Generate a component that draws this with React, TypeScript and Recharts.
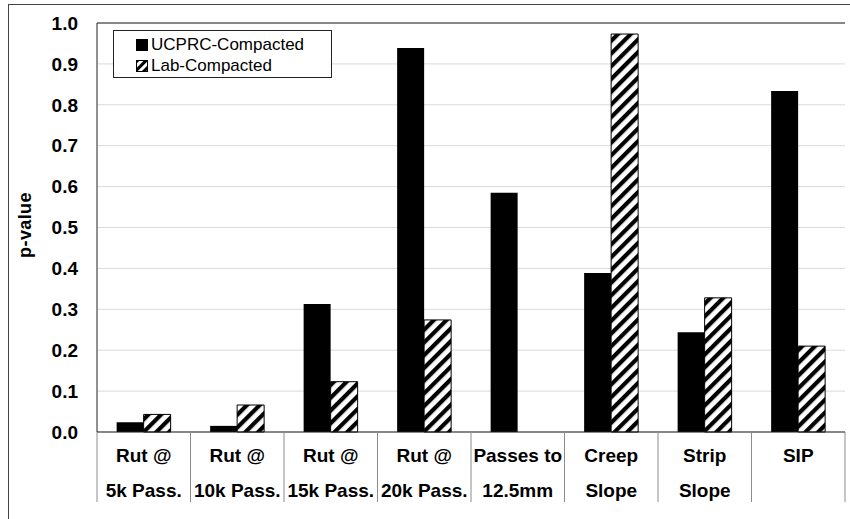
import React from "react"
import { BarChart, Bar, XAxis, YAxis, CartesianGrid, Legend, ReferenceLine } from "recharts"

const categories = [
  ["Rut @", "5k Pass."],
  ["Rut @", "10k Pass."],
  ["Rut @", "15k Pass."],
  ["Rut @", "20k Pass."],
  ["Passes to", "12.5mm"],
  ["Creep", "Slope"],
  ["Strip", "Slope"],
  ["SIP", ""],
]
const ucprc = [0.024, 0.015, 0.313, 0.939, 0.585, 0.389, 0.244, 0.834]
const lab = [0.043, 0.066, 0.123, 0.274, 0, 0.973, 0.328, 0.21]
const yTicks = [0, 0.1, 0.2, 0.3, 0.4, 0.5, 0.6, 0.7, 0.8, 0.9, 1.0]
const seriesOrder = ["ucprc", "lab"]

const data = categories.map((c, i) => ({
  name: c.join("\n"),
  ucprc: ucprc[i],
  lab: lab[i],
}))

const FONT = "Arial, 'Liberation Sans', sans-serif"

function CategoryTick(props: any) {
  const { x, y, payload, index, visibleTicksCount, width } = props
  const band = width / visibleTicksCount
  const [l1, l2] = String(payload.value).split("\n")
  const stroke = "#8c8c8c"
  return (
    <g>
      <line x1={x - band / 2} x2={x - band / 2} y1={y} y2={y + 70} stroke={stroke} />
      {index === visibleTicksCount - 1 && (
        <line x1={x + band / 2} x2={x + band / 2} y1={y} y2={y + 70} stroke={stroke} />
      )}
      <text x={x} y={y + 30} textAnchor="middle" fontFamily={FONT} fontWeight="bold" fontSize={19} fill="#000">
        {l1}
      </text>
      <text x={x} y={y + 65} textAnchor="middle" fontFamily={FONT} fontWeight="bold" fontSize={19} fill="#000">
        {l2}
      </text>
    </g>
  )
}

function LegendBox(props: any) {
  const items = [...(props.payload || [])].sort(
    (a: any, b: any) => seriesOrder.indexOf(a.dataKey) - seriesOrder.indexOf(b.dataKey)
  )
  return (
    <div
      style={{
        border: "1px solid #222",
        background: "#fff",
        width: 219,
        height: 48,
        boxSizing: "border-box",
        paddingLeft: 22,
        paddingTop: 3,
        fontFamily: FONT,
        fontSize: 17,
        lineHeight: "21px",
        color: "#000",
        textAlign: "left",
      }}
    >
      {items.map((it: any) => (
        <div key={it.value} style={{ display: "flex", alignItems: "center" }}>
          <svg width={12} height={12} style={{ marginRight: 3 }}>
            <rect
              x={0.5}
              y={0.5}
              width={11}
              height={11}
              fill={it.dataKey === "lab" ? "url(#hatchLegend)" : "#000"}
              stroke="#000"
            />
          </svg>
          <span>{it.value}</span>
        </div>
      ))}
    </div>
  )
}

export default function App() {
  return (
    <div style={{ position: "absolute", left: 0, top: 0, width: 850, height: 519, background: "#fff" }}>
      <div
        style={{
          position: "absolute",
          left: 8,
          top: 4,
          width: 860,
          height: 530,
          borderLeft: "1.5px solid #444",
          borderTop: "1.5px solid #444",
        }}
      />
      <svg width={0} height={0} style={{ position: "absolute" }}>
        <defs>
          <pattern id="hatchLegend" patternUnits="userSpaceOnUse" width={6} height={6} patternTransform="rotate(45)">
            <rect width={6} height={6} fill="#fff" />
            <rect width={3} height={6} fill="#000" />
          </pattern>
        </defs>
      </svg>
      <BarChart
        width={850}
        height={519}
        data={data}
        margin={{ top: 23, right: 5, bottom: 0, left: 0 }}
        barCategoryGap="21%"
        barGap={0}
      >
        <defs>
          <pattern id="hatch" patternUnits="userSpaceOnUse" width={9} height={9} patternTransform="rotate(45)">
            <rect width={9} height={9} fill="#fff" />
            <rect width={4.2} height={9} fill="#000" />
          </pattern>
        </defs>
        <CartesianGrid vertical={false} stroke="#d9d9d9" />
        <XAxis
          dataKey="name"
          interval={0}
          height={87}
          tickLine={false}
          tickSize={0}
          tickMargin={0}
          axisLine={{ stroke: "#222" }}
          tick={<CategoryTick />}
        />
        <YAxis
          width={97}
          domain={[0, 1]}
          ticks={yTicks}
          interval={0}
          tickFormatter={(v: number) => v.toFixed(1)}
          tickLine={false}
          tickSize={0}
          tickMargin={19}
          axisLine={{ stroke: "#222" }}
          tick={{ fontFamily: FONT, fontWeight: "bold", fontSize: 19, fill: "#000" }}
          label={{
            content: () => (
              <text
                x={31}
                y={225}
                textAnchor="middle"
                transform="rotate(-90 31 225)"
                fontFamily={FONT}
                fontWeight="bold"
                fontSize={18}
                letterSpacing={0.4}
                fill="#000"
              >
                p-value
              </text>
            ),
          }}
        />
        <YAxis
          yAxisId="right"
          orientation="right"
          width={0}
          domain={[0, 1]}
          tick={false}
          tickLine={false}
          axisLine={{ stroke: "#222" }}
        />
        <ReferenceLine y={1} stroke="#222" />
        <Legend
          layout="horizontal"
          verticalAlign="middle"
          align="center"
          wrapperStyle={{ left: 113, top: 30, width: 219, height: 48 }}
          content={<LegendBox />}
        />
        <Bar dataKey="ucprc" name="UCPRC-Compacted" fill="#000" isAnimationActive={false} />
        <Bar dataKey="lab" name="Lab-Compacted" fill="url(#hatch)" stroke="#000" strokeWidth={1} isAnimationActive={false} />
      </BarChart>
    </div>
  )
}
